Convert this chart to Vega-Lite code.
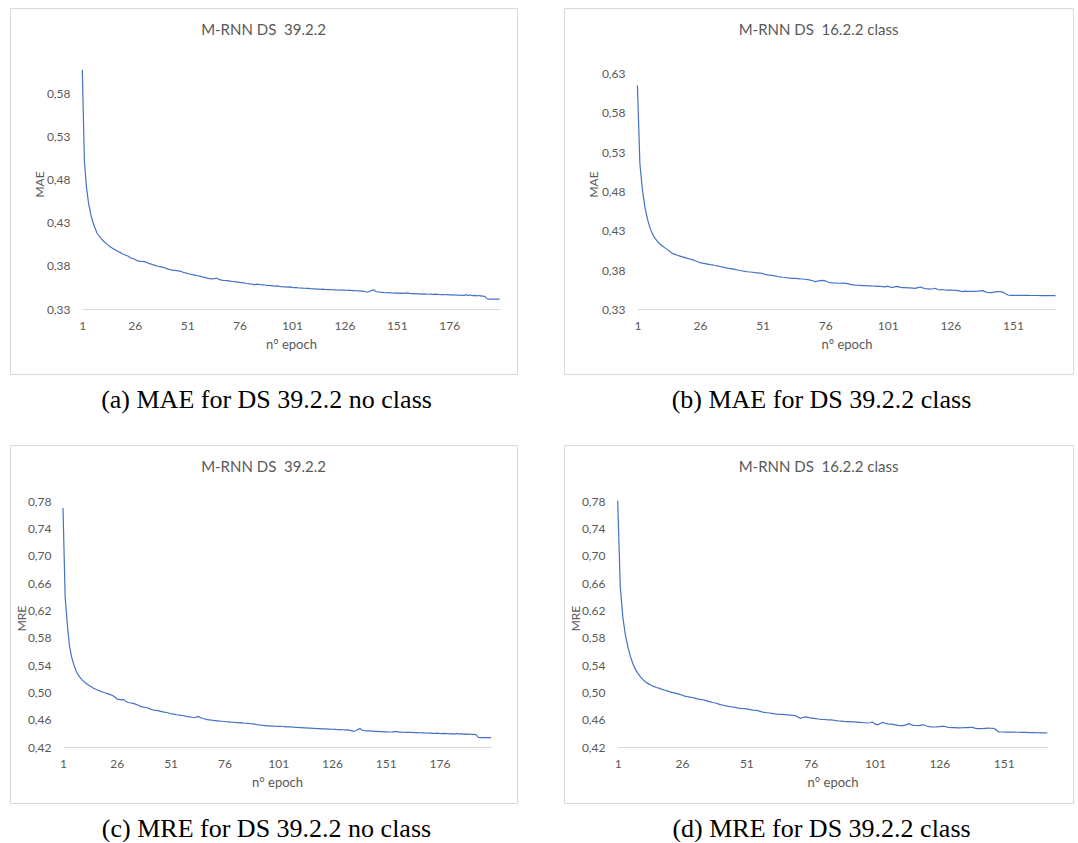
{
"$schema": "https://vega.github.io/schema/vega-lite/v6.json",
"background": "white",
"padding": {"left": 9, "top": 7, "right": 0, "bottom": 0},
"datasets": {
"a": [{"e":1,"v":0.607},{"e":2,"v":0.501},{"e":3,"v":0.471},{"e":4,"v":0.452},{"e":5,"v":0.440},{"e":6,"v":0.431},{"e":7,"v":0.424},{"e":8,"v":0.418},{"e":9,"v":0.4145},{"e":10,"v":0.4115},{"e":11,"v":0.409},{"e":12,"v":0.4065},{"e":13,"v":0.4045},{"e":14,"v":0.4025},{"e":15,"v":0.401},{"e":16,"v":0.3995},{"e":17,"v":0.398},{"e":18,"v":0.3965},{"e":19,"v":0.3955},{"e":20,"v":0.394},{"e":21,"v":0.393},{"e":22,"v":0.392},{"e":23,"v":0.391},{"e":24,"v":0.389},{"e":25,"v":0.3885},{"e":26,"v":0.3875},{"e":27,"v":0.386},{"e":28,"v":0.3855},{"e":29,"v":0.385},{"e":30,"v":0.3852},{"e":31,"v":0.3845},{"e":32,"v":0.3835},{"e":33,"v":0.3825},{"e":34,"v":0.382},{"e":35,"v":0.381},{"e":36,"v":0.3802},{"e":37,"v":0.3795},{"e":38,"v":0.379},{"e":39,"v":0.3785},{"e":40,"v":0.378},{"e":41,"v":0.377},{"e":42,"v":0.3762},{"e":43,"v":0.3755},{"e":44,"v":0.375},{"e":45,"v":0.3748},{"e":46,"v":0.3745},{"e":47,"v":0.3742},{"e":48,"v":0.3735},{"e":49,"v":0.3725},{"e":50,"v":0.372},{"e":51,"v":0.3712},{"e":52,"v":0.3705},{"e":53,"v":0.370},{"e":54,"v":0.3695},{"e":55,"v":0.369},{"e":56,"v":0.3685},{"e":57,"v":0.368},{"e":58,"v":0.3672},{"e":59,"v":0.3668},{"e":60,"v":0.366},{"e":61,"v":0.3655},{"e":62,"v":0.3652},{"e":63,"v":0.3648},{"e":64,"v":0.3652},{"e":65,"v":0.3658},{"e":66,"v":0.3645},{"e":67,"v":0.3638},{"e":68,"v":0.3632},{"e":69,"v":0.363},{"e":70,"v":0.3628},{"e":71,"v":0.3625},{"e":72,"v":0.362},{"e":73,"v":0.3618},{"e":74,"v":0.3615},{"e":75,"v":0.3612},{"e":76,"v":0.3608},{"e":77,"v":0.3605},{"e":78,"v":0.3602},{"e":79,"v":0.3598},{"e":80,"v":0.3595},{"e":81,"v":0.359},{"e":82,"v":0.3587},{"e":83,"v":0.358},{"e":84,"v":0.3588},{"e":85,"v":0.3585},{"e":86,"v":0.3582},{"e":87,"v":0.358},{"e":88,"v":0.3578},{"e":89,"v":0.3574},{"e":90,"v":0.3572},{"e":91,"v":0.357},{"e":92,"v":0.3568},{"e":93,"v":0.3565},{"e":94,"v":0.3567},{"e":95,"v":0.3562},{"e":96,"v":0.3558},{"e":97,"v":0.3556},{"e":98,"v":0.3555},{"e":99,"v":0.3553},{"e":100,"v":0.3556},{"e":101,"v":0.355},{"e":102,"v":0.3548},{"e":103,"v":0.3549},{"e":104,"v":0.3545},{"e":105,"v":0.3543},{"e":106,"v":0.3542},{"e":107,"v":0.354},{"e":108,"v":0.3538},{"e":109,"v":0.3539},{"e":110,"v":0.3535},{"e":111,"v":0.3533},{"e":112,"v":0.3534},{"e":113,"v":0.3531},{"e":114,"v":0.353},{"e":115,"v":0.3528},{"e":116,"v":0.3529},{"e":117,"v":0.3526},{"e":118,"v":0.3524},{"e":119,"v":0.3525},{"e":120,"v":0.3523},{"e":121,"v":0.3521},{"e":122,"v":0.3522},{"e":123,"v":0.352},{"e":124,"v":0.3519},{"e":125,"v":0.3518},{"e":126,"v":0.3519},{"e":127,"v":0.3517},{"e":128,"v":0.3515},{"e":129,"v":0.3516},{"e":130,"v":0.3513},{"e":131,"v":0.3512},{"e":132,"v":0.3511},{"e":133,"v":0.351},{"e":134,"v":0.3508},{"e":135,"v":0.3506},{"e":136,"v":0.35},{"e":137,"v":0.3494},{"e":138,"v":0.3505},{"e":139,"v":0.3515},{"e":140,"v":0.3522},{"e":141,"v":0.3502},{"e":142,"v":0.3498},{"e":143,"v":0.3495},{"e":144,"v":0.3493},{"e":145,"v":0.349},{"e":146,"v":0.3488},{"e":147,"v":0.3489},{"e":148,"v":0.3487},{"e":149,"v":0.3485},{"e":150,"v":0.3484},{"e":151,"v":0.3486},{"e":152,"v":0.3482},{"e":153,"v":0.3483},{"e":154,"v":0.3481},{"e":155,"v":0.3484},{"e":156,"v":0.3486},{"e":157,"v":0.348},{"e":158,"v":0.3478},{"e":159,"v":0.3479},{"e":160,"v":0.3476},{"e":161,"v":0.3474},{"e":162,"v":0.3475},{"e":163,"v":0.3473},{"e":164,"v":0.3474},{"e":165,"v":0.3472},{"e":166,"v":0.3471},{"e":167,"v":0.3473},{"e":168,"v":0.347},{"e":169,"v":0.3469},{"e":170,"v":0.3471},{"e":171,"v":0.3468},{"e":172,"v":0.3466},{"e":173,"v":0.3467},{"e":174,"v":0.3465},{"e":175,"v":0.3467},{"e":176,"v":0.3464},{"e":177,"v":0.3463},{"e":178,"v":0.3461},{"e":179,"v":0.3465},{"e":180,"v":0.3458},{"e":181,"v":0.3462},{"e":182,"v":0.346},{"e":183,"v":0.3456},{"e":184,"v":0.3466},{"e":185,"v":0.3458},{"e":186,"v":0.3462},{"e":187,"v":0.3455},{"e":188,"v":0.3458},{"e":189,"v":0.3452},{"e":190,"v":0.3456},{"e":191,"v":0.3453},{"e":192,"v":0.345},{"e":193,"v":0.3445},{"e":194,"v":0.3418},{"e":195,"v":0.3415},{"e":196,"v":0.3415},{"e":197,"v":0.3415},{"e":198,"v":0.3415},{"e":199,"v":0.3415},{"e":200,"v":0.3415}],
"b": [{"e":1,"v":0.615},{"e":2,"v":0.515},{"e":3,"v":0.482},{"e":4,"v":0.460},{"e":5,"v":0.445},{"e":6,"v":0.434},{"e":7,"v":0.426},{"e":8,"v":0.4205},{"e":9,"v":0.4165},{"e":10,"v":0.4132},{"e":11,"v":0.4105},{"e":12,"v":0.4082},{"e":13,"v":0.406},{"e":14,"v":0.4035},{"e":15,"v":0.4012},{"e":16,"v":0.4},{"e":17,"v":0.3988},{"e":18,"v":0.3978},{"e":19,"v":0.3968},{"e":20,"v":0.3958},{"e":21,"v":0.3948},{"e":22,"v":0.394},{"e":23,"v":0.3932},{"e":24,"v":0.3918},{"e":25,"v":0.3905},{"e":26,"v":0.3895},{"e":27,"v":0.3888},{"e":28,"v":0.3882},{"e":29,"v":0.3876},{"e":30,"v":0.387},{"e":31,"v":0.3865},{"e":32,"v":0.3858},{"e":33,"v":0.3852},{"e":34,"v":0.3845},{"e":35,"v":0.3838},{"e":36,"v":0.383},{"e":37,"v":0.3824},{"e":38,"v":0.3819},{"e":39,"v":0.3814},{"e":40,"v":0.3808},{"e":41,"v":0.38},{"e":42,"v":0.3794},{"e":43,"v":0.3788},{"e":44,"v":0.3782},{"e":45,"v":0.3778},{"e":46,"v":0.3775},{"e":47,"v":0.3772},{"e":48,"v":0.3768},{"e":49,"v":0.3765},{"e":50,"v":0.3761},{"e":51,"v":0.3756},{"e":52,"v":0.3745},{"e":53,"v":0.3738},{"e":54,"v":0.3734},{"e":55,"v":0.373},{"e":56,"v":0.3725},{"e":57,"v":0.3718},{"e":58,"v":0.3712},{"e":59,"v":0.3708},{"e":60,"v":0.3705},{"e":61,"v":0.3701},{"e":62,"v":0.3698},{"e":63,"v":0.3695},{"e":64,"v":0.3693},{"e":65,"v":0.3691},{"e":66,"v":0.3688},{"e":67,"v":0.3686},{"e":68,"v":0.3683},{"e":69,"v":0.3679},{"e":70,"v":0.3672},{"e":71,"v":0.3664},{"e":72,"v":0.3652},{"e":73,"v":0.3658},{"e":74,"v":0.3665},{"e":75,"v":0.3669},{"e":76,"v":0.3662},{"e":77,"v":0.3648},{"e":78,"v":0.364},{"e":79,"v":0.3637},{"e":80,"v":0.3635},{"e":81,"v":0.3633},{"e":82,"v":0.3632},{"e":83,"v":0.3633},{"e":84,"v":0.3631},{"e":85,"v":0.3626},{"e":86,"v":0.3618},{"e":87,"v":0.361},{"e":88,"v":0.3608},{"e":89,"v":0.3606},{"e":90,"v":0.3604},{"e":91,"v":0.3602},{"e":92,"v":0.3601},{"e":93,"v":0.3599},{"e":94,"v":0.3598},{"e":95,"v":0.3597},{"e":96,"v":0.3595},{"e":97,"v":0.3593},{"e":98,"v":0.3591},{"e":99,"v":0.3589},{"e":100,"v":0.3586},{"e":101,"v":0.3595},{"e":102,"v":0.3582},{"e":103,"v":0.3578},{"e":104,"v":0.3588},{"e":105,"v":0.3591},{"e":106,"v":0.3579},{"e":107,"v":0.3577},{"e":108,"v":0.3576},{"e":109,"v":0.3574},{"e":110,"v":0.3572},{"e":111,"v":0.357},{"e":112,"v":0.3567},{"e":113,"v":0.3575},{"e":114,"v":0.3585},{"e":115,"v":0.3572},{"e":116,"v":0.3562},{"e":117,"v":0.356},{"e":118,"v":0.3558},{"e":119,"v":0.3562},{"e":120,"v":0.3568},{"e":121,"v":0.3552},{"e":122,"v":0.3548},{"e":123,"v":0.3552},{"e":124,"v":0.3546},{"e":125,"v":0.3544},{"e":126,"v":0.3546},{"e":127,"v":0.3543},{"e":128,"v":0.3542},{"e":129,"v":0.3538},{"e":130,"v":0.3531},{"e":131,"v":0.3526},{"e":132,"v":0.3532},{"e":133,"v":0.3528},{"e":134,"v":0.3527},{"e":135,"v":0.3529},{"e":136,"v":0.3528},{"e":137,"v":0.3531},{"e":138,"v":0.3535},{"e":139,"v":0.3538},{"e":140,"v":0.3522},{"e":141,"v":0.3514},{"e":142,"v":0.3512},{"e":143,"v":0.3516},{"e":144,"v":0.3521},{"e":145,"v":0.3524},{"e":146,"v":0.3525},{"e":147,"v":0.3518},{"e":148,"v":0.3498},{"e":149,"v":0.3482},{"e":150,"v":0.3478},{"e":151,"v":0.3478},{"e":152,"v":0.3478},{"e":153,"v":0.3478},{"e":154,"v":0.3477},{"e":155,"v":0.3477},{"e":156,"v":0.3477},{"e":157,"v":0.3477},{"e":158,"v":0.3476},{"e":159,"v":0.3476},{"e":160,"v":0.3476},{"e":161,"v":0.3476},{"e":162,"v":0.3475},{"e":163,"v":0.3475},{"e":164,"v":0.3475},{"e":165,"v":0.3474},{"e":166,"v":0.3474},{"e":167,"v":0.3474},{"e":168,"v":0.3474}],
"c": [{"e":1,"v":0.770},{"e":2,"v":0.640},{"e":3,"v":0.600},{"e":4,"v":0.568},{"e":5,"v":0.552},{"e":6,"v":0.541},{"e":7,"v":0.532},{"e":8,"v":0.526},{"e":9,"v":0.5215},{"e":10,"v":0.518},{"e":11,"v":0.5152},{"e":12,"v":0.5128},{"e":13,"v":0.5105},{"e":14,"v":0.5085},{"e":15,"v":0.5065},{"e":16,"v":0.505},{"e":17,"v":0.5035},{"e":18,"v":0.5022},{"e":19,"v":0.501},{"e":20,"v":0.4998},{"e":21,"v":0.4988},{"e":22,"v":0.4978},{"e":23,"v":0.4968},{"e":24,"v":0.4955},{"e":25,"v":0.4935},{"e":26,"v":0.4905},{"e":27,"v":0.4898},{"e":28,"v":0.4892},{"e":29,"v":0.4898},{"e":30,"v":0.4875},{"e":31,"v":0.4855},{"e":32,"v":0.4848},{"e":33,"v":0.4842},{"e":34,"v":0.4835},{"e":35,"v":0.4825},{"e":36,"v":0.4812},{"e":37,"v":0.4795},{"e":38,"v":0.4788},{"e":39,"v":0.4782},{"e":40,"v":0.4775},{"e":41,"v":0.4765},{"e":42,"v":0.4752},{"e":43,"v":0.4742},{"e":44,"v":0.4738},{"e":45,"v":0.4733},{"e":46,"v":0.4726},{"e":47,"v":0.4718},{"e":48,"v":0.4712},{"e":49,"v":0.4705},{"e":50,"v":0.4698},{"e":51,"v":0.469},{"e":52,"v":0.4684},{"e":53,"v":0.4679},{"e":54,"v":0.4673},{"e":55,"v":0.4668},{"e":56,"v":0.4662},{"e":57,"v":0.4658},{"e":58,"v":0.4652},{"e":59,"v":0.4646},{"e":60,"v":0.4641},{"e":61,"v":0.4636},{"e":62,"v":0.4632},{"e":63,"v":0.4638},{"e":64,"v":0.4648},{"e":65,"v":0.4628},{"e":66,"v":0.4618},{"e":67,"v":0.461},{"e":68,"v":0.4602},{"e":69,"v":0.4598},{"e":70,"v":0.4594},{"e":71,"v":0.459},{"e":72,"v":0.4587},{"e":73,"v":0.4584},{"e":74,"v":0.458},{"e":75,"v":0.4577},{"e":76,"v":0.4574},{"e":77,"v":0.457},{"e":78,"v":0.4568},{"e":79,"v":0.4565},{"e":80,"v":0.4563},{"e":81,"v":0.456},{"e":82,"v":0.4558},{"e":83,"v":0.4554},{"e":84,"v":0.4557},{"e":85,"v":0.4552},{"e":86,"v":0.4548},{"e":87,"v":0.4545},{"e":88,"v":0.4541},{"e":89,"v":0.4538},{"e":90,"v":0.4534},{"e":91,"v":0.453},{"e":92,"v":0.4525},{"e":93,"v":0.4521},{"e":94,"v":0.4518},{"e":95,"v":0.4514},{"e":96,"v":0.451},{"e":97,"v":0.4509},{"e":98,"v":0.4507},{"e":99,"v":0.4508},{"e":100,"v":0.4504},{"e":101,"v":0.4503},{"e":102,"v":0.4502},{"e":103,"v":0.45},{"e":104,"v":0.4498},{"e":105,"v":0.4496},{"e":106,"v":0.4494},{"e":107,"v":0.4495},{"e":108,"v":0.4491},{"e":109,"v":0.4488},{"e":110,"v":0.4487},{"e":111,"v":0.4485},{"e":112,"v":0.4483},{"e":113,"v":0.4481},{"e":114,"v":0.448},{"e":115,"v":0.4478},{"e":116,"v":0.4476},{"e":117,"v":0.4474},{"e":118,"v":0.4472},{"e":119,"v":0.4469},{"e":120,"v":0.4468},{"e":121,"v":0.4467},{"e":122,"v":0.4465},{"e":123,"v":0.4466},{"e":124,"v":0.4463},{"e":125,"v":0.4462},{"e":126,"v":0.446},{"e":127,"v":0.4459},{"e":128,"v":0.4457},{"e":129,"v":0.4456},{"e":130,"v":0.4455},{"e":131,"v":0.4453},{"e":132,"v":0.4452},{"e":133,"v":0.445},{"e":134,"v":0.4448},{"e":135,"v":0.444},{"e":136,"v":0.4428},{"e":137,"v":0.4438},{"e":138,"v":0.4455},{"e":139,"v":0.447},{"e":140,"v":0.4445},{"e":141,"v":0.4438},{"e":142,"v":0.4436},{"e":143,"v":0.4435},{"e":144,"v":0.4433},{"e":145,"v":0.4432},{"e":146,"v":0.443},{"e":147,"v":0.4428},{"e":148,"v":0.4426},{"e":149,"v":0.4424},{"e":150,"v":0.4422},{"e":151,"v":0.4423},{"e":152,"v":0.4421},{"e":153,"v":0.442},{"e":154,"v":0.4422},{"e":155,"v":0.4426},{"e":156,"v":0.4428},{"e":157,"v":0.4418},{"e":158,"v":0.4417},{"e":159,"v":0.4416},{"e":160,"v":0.4415},{"e":161,"v":0.4414},{"e":162,"v":0.4414},{"e":163,"v":0.4413},{"e":164,"v":0.4412},{"e":165,"v":0.4411},{"e":166,"v":0.441},{"e":167,"v":0.4409},{"e":168,"v":0.4408},{"e":169,"v":0.4407},{"e":170,"v":0.4405},{"e":171,"v":0.4404},{"e":172,"v":0.4403},{"e":173,"v":0.4401},{"e":174,"v":0.44},{"e":175,"v":0.4402},{"e":176,"v":0.4398},{"e":177,"v":0.4397},{"e":178,"v":0.4399},{"e":179,"v":0.4395},{"e":180,"v":0.4396},{"e":181,"v":0.4393},{"e":182,"v":0.4395},{"e":183,"v":0.439},{"e":184,"v":0.4398},{"e":185,"v":0.4389},{"e":186,"v":0.4396},{"e":187,"v":0.4388},{"e":188,"v":0.4392},{"e":189,"v":0.4386},{"e":190,"v":0.439},{"e":191,"v":0.4385},{"e":192,"v":0.4386},{"e":193,"v":0.438},{"e":194,"v":0.4339},{"e":195,"v":0.4338},{"e":196,"v":0.4338},{"e":197,"v":0.4337},{"e":198,"v":0.4337},{"e":199,"v":0.4337},{"e":200,"v":0.4337}],
"d": [{"e":1,"v":0.781},{"e":2,"v":0.655},{"e":3,"v":0.610},{"e":4,"v":0.584},{"e":5,"v":0.566},{"e":6,"v":0.552},{"e":7,"v":0.541},{"e":8,"v":0.533},{"e":9,"v":0.527},{"e":10,"v":0.522},{"e":11,"v":0.518},{"e":12,"v":0.5148},{"e":13,"v":0.5125},{"e":14,"v":0.5105},{"e":15,"v":0.5088},{"e":16,"v":0.5072},{"e":17,"v":0.5062},{"e":18,"v":0.5048},{"e":19,"v":0.5035},{"e":20,"v":0.5025},{"e":21,"v":0.5012},{"e":22,"v":0.5},{"e":23,"v":0.4992},{"e":24,"v":0.4982},{"e":25,"v":0.4972},{"e":26,"v":0.4962},{"e":27,"v":0.4945},{"e":28,"v":0.4938},{"e":29,"v":0.4932},{"e":30,"v":0.4925},{"e":31,"v":0.4915},{"e":32,"v":0.4905},{"e":33,"v":0.4898},{"e":34,"v":0.4892},{"e":35,"v":0.4882},{"e":36,"v":0.4872},{"e":37,"v":0.4862},{"e":38,"v":0.4852},{"e":39,"v":0.4845},{"e":40,"v":0.4832},{"e":41,"v":0.482},{"e":42,"v":0.4812},{"e":43,"v":0.4802},{"e":44,"v":0.4795},{"e":45,"v":0.479},{"e":46,"v":0.4783},{"e":47,"v":0.4777},{"e":48,"v":0.477},{"e":49,"v":0.4765},{"e":50,"v":0.4762},{"e":51,"v":0.4758},{"e":52,"v":0.4752},{"e":53,"v":0.4745},{"e":54,"v":0.474},{"e":55,"v":0.4738},{"e":56,"v":0.4725},{"e":57,"v":0.4715},{"e":58,"v":0.4706},{"e":59,"v":0.4702},{"e":60,"v":0.4698},{"e":61,"v":0.4692},{"e":62,"v":0.4686},{"e":63,"v":0.4682},{"e":64,"v":0.4679},{"e":65,"v":0.4677},{"e":66,"v":0.4674},{"e":67,"v":0.4671},{"e":68,"v":0.4668},{"e":69,"v":0.4665},{"e":70,"v":0.466},{"e":71,"v":0.464},{"e":72,"v":0.462},{"e":73,"v":0.4632},{"e":74,"v":0.4642},{"e":75,"v":0.4635},{"e":76,"v":0.4622},{"e":77,"v":0.462},{"e":78,"v":0.4615},{"e":79,"v":0.461},{"e":80,"v":0.4606},{"e":81,"v":0.4603},{"e":82,"v":0.46},{"e":83,"v":0.4598},{"e":84,"v":0.4596},{"e":85,"v":0.4592},{"e":86,"v":0.4586},{"e":87,"v":0.4581},{"e":88,"v":0.4578},{"e":89,"v":0.4575},{"e":90,"v":0.4573},{"e":91,"v":0.4571},{"e":92,"v":0.4569},{"e":93,"v":0.4567},{"e":94,"v":0.4565},{"e":95,"v":0.4562},{"e":96,"v":0.4558},{"e":97,"v":0.4555},{"e":98,"v":0.4552},{"e":99,"v":0.4555},{"e":100,"v":0.4565},{"e":101,"v":0.4538},{"e":102,"v":0.4524},{"e":103,"v":0.4545},{"e":104,"v":0.456},{"e":105,"v":0.4548},{"e":106,"v":0.4538},{"e":107,"v":0.4535},{"e":108,"v":0.4532},{"e":109,"v":0.4525},{"e":110,"v":0.4518},{"e":111,"v":0.4514},{"e":112,"v":0.4513},{"e":113,"v":0.4525},{"e":114,"v":0.4542},{"e":115,"v":0.4528},{"e":116,"v":0.4518},{"e":117,"v":0.4515},{"e":118,"v":0.4513},{"e":119,"v":0.452},{"e":120,"v":0.4525},{"e":121,"v":0.4508},{"e":122,"v":0.4498},{"e":123,"v":0.4494},{"e":124,"v":0.4493},{"e":125,"v":0.4495},{"e":126,"v":0.4498},{"e":127,"v":0.4502},{"e":128,"v":0.4504},{"e":129,"v":0.4492},{"e":130,"v":0.4486},{"e":131,"v":0.4484},{"e":132,"v":0.4483},{"e":133,"v":0.4481},{"e":134,"v":0.448},{"e":135,"v":0.4482},{"e":136,"v":0.4484},{"e":137,"v":0.4485},{"e":138,"v":0.4487},{"e":139,"v":0.4488},{"e":140,"v":0.4472},{"e":141,"v":0.4468},{"e":142,"v":0.4469},{"e":143,"v":0.4471},{"e":144,"v":0.4474},{"e":145,"v":0.4476},{"e":146,"v":0.4475},{"e":147,"v":0.4474},{"e":148,"v":0.4455},{"e":149,"v":0.4422},{"e":150,"v":0.442},{"e":151,"v":0.442},{"e":152,"v":0.4419},{"e":153,"v":0.4418},{"e":154,"v":0.4418},{"e":155,"v":0.4417},{"e":156,"v":0.4416},{"e":157,"v":0.4416},{"e":158,"v":0.4415},{"e":159,"v":0.4414},{"e":160,"v":0.4413},{"e":161,"v":0.4412},{"e":162,"v":0.4411},{"e":163,"v":0.441},{"e":164,"v":0.4409},{"e":165,"v":0.4408},{"e":166,"v":0.4407},{"e":167,"v":0.4406},{"e":168,"v":0.4405}]
},
"vconcat": [
{"hconcat": [
 {"title": {"text": "(a) MAE for DS 39.2.2 no class", "orient": "bottom", "font": "Liberation Serif", "fontSize": 26, "fontWeight": "normal", "color": "#000000", "offset": 12, "baseline": "top", "anchor": "middle", "dx": 3},
  "vconcat": [{
   "width": 507, "height": 366,
   "title": {"text": "M-RNN DS \u00a039.2.2", "font": "Lato", "fontSize": 15, "fontWeight": "normal", "color": "#595959", "offset": -37, "baseline": "middle", "anchor": "middle"},
   "data": {"name": "a"},
   "mark": {"type": "line", "color": "#4472C4", "strokeWidth": 1.2},
   "encoding": {
    "x": {"field": "e", "type": "quantitative", "scale": {"domain": [1, 200], "range": [72.3, 489.6], "nice": false, "zero": false},
          "axis": {"values": [1, 26, 51, 76, 101, 126, 151, 176], "title": "n° epoch", "offset": -65, "titleY": 35}},
    "y": {"field": "v", "type": "quantitative", "scale": {"domain": [0.33, 0.63], "range": [301, 41.8], "nice": false, "zero": false},
          "axis": {"values": [0.33, 0.38, 0.43, 0.48, 0.53, 0.58], "title": "MAE", "offset": -63, "titleX": -34, "titleY": 176, "labelExpr": "replace(format(datum.value, '.2f'), '.', ',')"}}
   }
  }]
 },
 {"title": {"text": "(b) MAE for DS 39.2.2 class", "orient": "bottom", "font": "Liberation Serif", "fontSize": 26, "fontWeight": "normal", "color": "#000000", "offset": 12, "baseline": "top", "anchor": "middle", "dx": 3},
  "vconcat": [{
   "width": 509, "height": 366,
   "title": {"text": "M-RNN DS \u00a016.2.2 class", "font": "Lato", "fontSize": 15, "fontWeight": "normal", "color": "#595959", "offset": -37, "baseline": "middle", "anchor": "middle"},
   "data": {"name": "b"},
   "mark": {"type": "line", "color": "#4472C4", "strokeWidth": 1.2},
   "encoding": {
    "x": {"field": "e", "type": "quantitative", "scale": {"domain": [1, 168], "range": [73.4, 491.5], "nice": false, "zero": false},
          "axis": {"values": [1, 26, 51, 76, 101, 126, 151], "title": "n° epoch", "offset": -65, "titleY": 35}},
    "y": {"field": "v", "type": "quantitative", "scale": {"domain": [0.33, 0.63], "range": [301.3, 65.7], "nice": false, "zero": false},
          "axis": {"values": [0.33, 0.38, 0.43, 0.48, 0.53, 0.58, 0.63], "title": "MAE", "offset": -64, "titleX": -35, "titleY": 176, "labelExpr": "replace(format(datum.value, '.2f'), '.', ',')"}}
   }
  }]
 }
], "spacing": 45},
{"hconcat": [
 {"title": {"text": "(c) MRE for DS 39.2.2 no class", "orient": "bottom", "font": "Liberation Serif", "fontSize": 26, "fontWeight": "normal", "color": "#000000", "offset": 12, "baseline": "top", "anchor": "middle", "dx": 3},
  "vconcat": [{
   "width": 507, "height": 358,
   "title": {"text": "M-RNN DS \u00a039.2.2", "font": "Lato", "fontSize": 15, "fontWeight": "normal", "color": "#595959", "offset": -37, "baseline": "middle", "anchor": "middle"},
   "data": {"name": "c"},
   "mark": {"type": "line", "color": "#4472C4", "strokeWidth": 1.2},
   "encoding": {
    "x": {"field": "e", "type": "quantitative", "scale": {"domain": [1, 200], "range": [53, 481.2], "nice": false, "zero": false},
          "axis": {"values": [1, 26, 51, 76, 101, 126, 151, 176], "title": "n° epoch", "offset": -56, "titleY": 35}},
    "y": {"field": "v", "type": "quantitative", "scale": {"domain": [0.42, 0.78], "range": [302, 56.3], "nice": false, "zero": false},
          "axis": {"values": [0.42, 0.46, 0.50, 0.54, 0.58, 0.62, 0.66, 0.70, 0.74, 0.78], "title": "MRE", "offset": -44, "titleX": -33, "titleY": 173, "labelExpr": "replace(format(datum.value, '.2f'), '.', ',')"}}
   }
  }]
 },
 {"title": {"text": "(d) MRE for DS 39.2.2 class", "orient": "bottom", "font": "Liberation Serif", "fontSize": 26, "fontWeight": "normal", "color": "#000000", "offset": 12, "baseline": "top", "anchor": "middle", "dx": 3},
  "vconcat": [{
   "width": 509, "height": 358,
   "title": {"text": "M-RNN DS \u00a016.2.2 class", "font": "Lato", "fontSize": 15, "fontWeight": "normal", "color": "#595959", "offset": -37, "baseline": "middle", "anchor": "middle"},
   "data": {"name": "d"},
   "mark": {"type": "line", "color": "#4472C4", "strokeWidth": 1.2},
   "encoding": {
    "x": {"field": "e", "type": "quantitative", "scale": {"domain": [1, 168], "range": [53.7, 483.4], "nice": false, "zero": false},
          "axis": {"values": [1, 26, 51, 76, 101, 126, 151], "title": "n° epoch", "offset": -56, "titleY": 35}},
    "y": {"field": "v", "type": "quantitative", "scale": {"domain": [0.42, 0.78], "range": [302, 56.3], "nice": false, "zero": false},
          "axis": {"values": [0.42, 0.46, 0.50, 0.54, 0.58, 0.62, 0.66, 0.70, 0.74, 0.78], "title": "MRE", "offset": -44, "titleX": -33, "titleY": 173, "labelExpr": "replace(format(datum.value, '.2f'), '.', ',')"}}
   }
  }]
 }
], "spacing": 45}
],
"spacing": 31,
"config": {
 "view": {"stroke": "#D9D9D9", "strokeWidth": 1},
 "axis": {"grid": false, "ticks": false, "tickSize": 0, "labelFont": "Lato", "labelFontSize": 12, "labelColor": "#595959", "titleFont": "Lato", "titleFontSize": 13, "titleFontWeight": "normal", "titleColor": "#595959"},
 "axisX": {"domainColor": "#D9D9D9", "domainWidth": 1, "labelPadding": 11, "titleBaseline": "middle", "labelFlush": false, "labelOverlap": false},
 "axisY": {"domain": false, "labelPadding": 3, "titleBaseline": "middle", "titleAngle": -90, "titleAlign": "center", "titleFontSize": 12, "labelBaseline": "middle", "labelOverlap": false}
}
}
